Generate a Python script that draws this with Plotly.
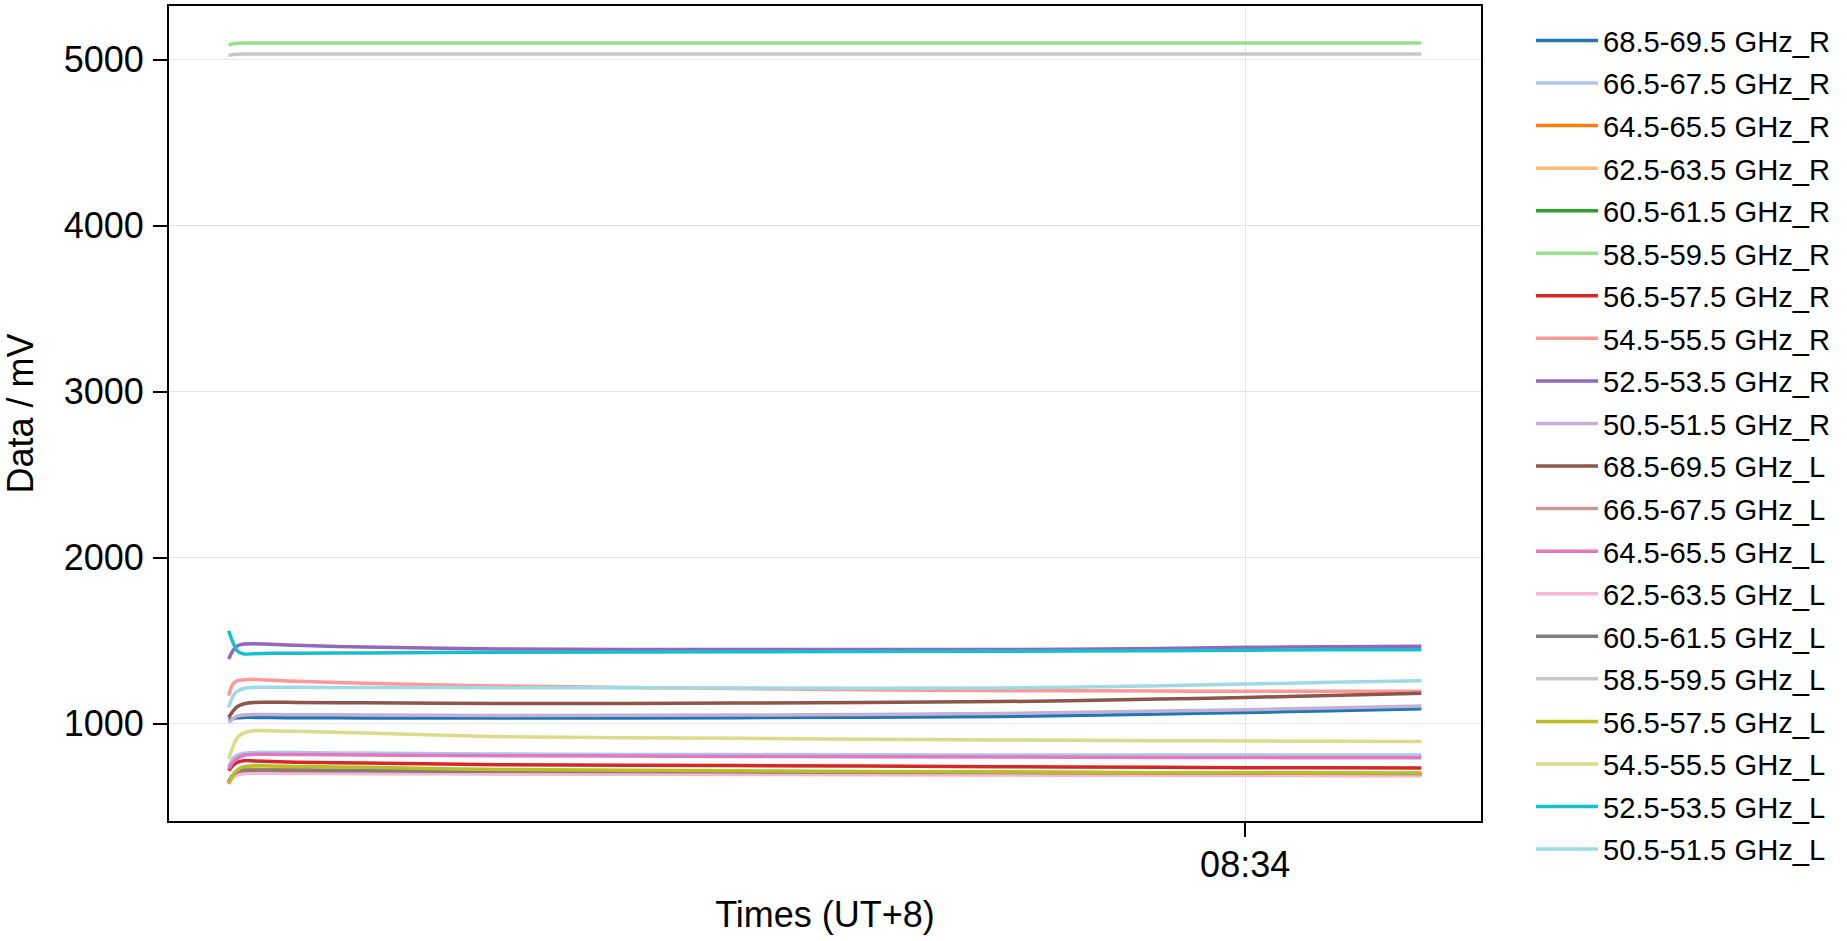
import plotly.graph_objects as go
from datetime import datetime, timedelta

# ---- data ----
start_time = datetime(2024, 1, 1, 8, 33, 0)
offsets_s = [0, 0.25, 0.5, 0.9, 1.5, 2.5, 4, 8, 16, 30, 45.5, 55, 60, 65, 70.4]
times = [start_time + timedelta(seconds=s) for s in offsets_s]

names = [
    "68.5-69.5 GHz_R", "66.5-67.5 GHz_R", "64.5-65.5 GHz_R", "62.5-63.5 GHz_R",
    "60.5-61.5 GHz_R", "58.5-59.5 GHz_R", "56.5-57.5 GHz_R", "54.5-55.5 GHz_R",
    "52.5-53.5 GHz_R", "50.5-51.5 GHz_R",
    "68.5-69.5 GHz_L", "66.5-67.5 GHz_L", "64.5-65.5 GHz_L", "62.5-63.5 GHz_L",
    "60.5-61.5 GHz_L", "58.5-59.5 GHz_L", "56.5-57.5 GHz_L", "54.5-55.5 GHz_L",
    "52.5-53.5 GHz_L", "50.5-51.5 GHz_L",
]

r_68 = [1022, 1030, 1035, 1038, 1038, 1037, 1036, 1035, 1034, 1036, 1044, 1058, 1068, 1078, 1090]
r_66 = [740, 790, 810, 822, 827, 827, 826, 823, 817, 814, 811, 811, 811, 811, 811]
r_64 = [650, 690, 712, 722, 725, 724, 723, 720, 716, 712, 707, 704, 702, 700, 699]
r_62 = [655, 680, 695, 702, 705, 705, 704, 702, 700, 697, 694, 691, 690, 689, 688]
r_60 = [650, 685, 703, 711, 714, 714, 713, 711, 708, 705, 701, 699, 698, 697, 696]
r_58 = [5088, 5096, 5099, 5100, 5100, 5100, 5100, 5100, 5100, 5100, 5100, 5100, 5100, 5100, 5100]
r_56 = [717, 748, 767, 777, 776, 772, 768, 763, 753, 748, 741, 737, 735, 734, 733]
r_54 = [1169, 1239, 1258, 1264, 1267, 1262, 1255, 1243, 1227, 1212, 1199, 1197, 1195, 1195, 1195]
r_52 = [1390, 1440, 1468, 1480, 1482, 1478, 1472, 1462, 1450, 1447, 1447, 1453, 1460, 1463, 1466]
r_50 = [1008, 1030, 1045, 1052, 1055, 1055, 1054, 1053, 1050, 1052, 1062, 1076, 1084, 1095, 1107]

l_68 = [1038, 1075, 1102, 1120, 1128, 1129, 1128, 1126, 1122, 1124, 1133, 1148, 1158, 1170, 1183]
l_66 = [640, 680, 700, 710, 713, 713, 712, 710, 707, 704, 700, 698, 697, 696, 695]
l_64 = [727, 768, 790, 810, 815, 815, 814, 812, 807, 803, 799, 797, 796, 795, 795]
l_62 = [640, 675, 692, 699, 701, 701, 700, 699, 697, 694, 691, 689, 688, 687, 687]
l_60 = [646, 690, 710, 718, 720, 719, 718, 716, 713, 710, 706, 703, 702, 701, 700]
l_58 = [5024, 5031, 5033, 5034, 5034, 5034, 5034, 5034, 5034, 5034, 5034, 5034, 5034, 5034, 5034]
l_56 = [637, 690, 720, 741, 747, 745, 742, 737, 724, 716, 709, 705, 704, 703, 703]
l_54 = [787, 860, 915, 945, 958, 957, 954, 944, 922, 912, 902, 898, 896, 894, 892]
l_52 = [1560, 1490, 1440, 1420, 1422, 1424, 1425, 1426, 1430, 1433, 1436, 1440, 1443, 1445, 1446]
l_50 = [1098, 1165, 1195, 1212, 1219, 1219, 1219, 1218, 1217, 1215, 1215, 1228, 1239, 1249, 1259]

series = [r_68, r_66, r_64, r_62, r_60, r_58, r_56, r_54, r_52, r_50,
          l_68, l_66, l_64, l_62, l_60, l_58, l_56, l_54, l_52, l_50]

colors = ["#1f77b4", "#aec7e8", "#ff7f0e", "#ffbb78", "#2ca02c", "#98df8a",
          "#d62728", "#ff9896", "#9467bd", "#c5b0d5", "#8c564b", "#c49c94",
          "#e377c2", "#f7b6d2", "#7f7f7f", "#c7c7c7", "#bcbd22", "#dbdb8d",
          "#17becf", "#9edae5"]

tick_time = datetime(2024, 1, 1, 8, 34, 0)
y_ticks = [1000, 2000, 3000, 4000, 5000]

# ---- figure ----
FONT = "Liberation Sans, Arial, sans-serif"
fig = go.Figure()
for i, (name, vals, col) in enumerate(zip(names, series, colors)):
    fig.add_trace(go.Scatter(
        x=times, y=vals, name=name, mode="lines", legendgroup=f"g{i}",
        line=dict(color=col, width=3.5, shape="spline", smoothing=0.8),
    ))

span = times[-1] - times[0]
pad = span * 0.05
all_vals = [v for s in series for v in s]
vmin, vmax = min(all_vals), max(all_vals)
ypad = (vmax - vmin) * 0.05

fig.update_layout(
    width=1847, height=941,
    margin=dict(l=169, r=366, t=6, b=120, autoexpand=False),
    paper_bgcolor="white", plot_bgcolor="white",
    font=dict(family=FONT, color="black", size=36),
    showlegend=True,
    legend=dict(
        x=1.0381, xanchor="left", y=0.989, yanchor="top",
        font=dict(family=FONT, size=29.2, color="black"),
        bgcolor="rgba(0,0,0,0)", borderwidth=0,
        tracegroupgap=1.6, maxheight=930, itemwidth=62,
    ),
)

fig.update_xaxes(
    range=[times[0] - pad, times[-1] + pad],
    tickvals=[tick_time], ticktext=["08:34"],
    automargin=False,
    showline=True, linecolor="black", linewidth=2, mirror=True,
    ticks="outside", ticklen=14, tickwidth=2, tickcolor="black",
    ticklabelstandoff=-3,
    showgrid=True, gridcolor="#e3e3e3", gridwidth=1,
    zeroline=False,
    tickfont=dict(family=FONT, size=36),
    title=dict(text="Times (UT+8)", font=dict(family=FONT, size=36), standoff=18),
)
fig.update_yaxes(
    range=[vmin - ypad, vmax + ypad],
    tickvals=y_ticks,
    automargin=False,
    showline=True, linecolor="black", linewidth=2, mirror=True,
    ticks="outside", ticklen=14, tickwidth=2, tickcolor="black",
    ticklabelstandoff=2,
    showgrid=True, gridcolor="#e3e3e3", gridwidth=1,
    zeroline=False,
    tickfont=dict(family=FONT, size=36),
    title=dict(text="Data / mV", font=dict(family=FONT, size=36), standoff=27),
)

fig.write_html("out.html", post_script="document.body.style.margin='0px';",
               config={"displayModeBar": False})
